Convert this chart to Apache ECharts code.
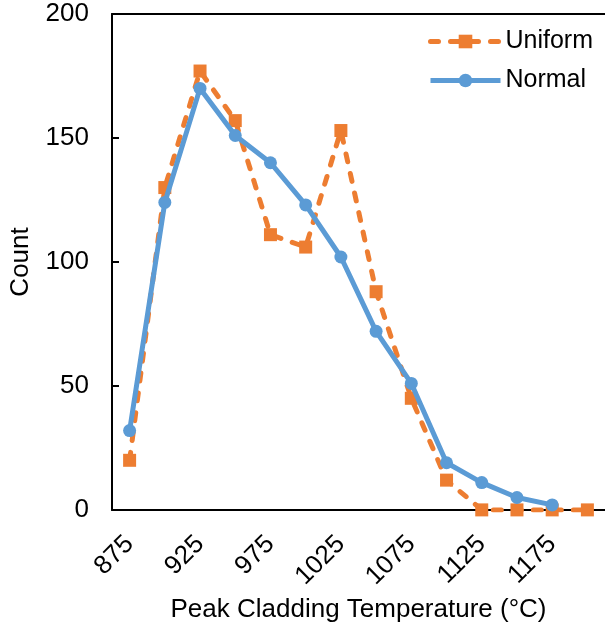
<!DOCTYPE html>
<html>
<head>
<meta charset="utf-8">
<script src="https://cdn.jsdelivr.net/npm/echarts@6/dist/echarts.min.js"></script>
<style>
    html, body { margin: 0; padding: 0; background: #fff; }
    #chart { width: 605px; height: 628px; }
</style>
</head>
<body>
<div id="chart"></div>
<script>
    // peak cladding temperature bins (°C)
    var temperatures = ['875', '900', '925', '950', '975', '1000', '1025', '1050', '1075', '1100', '1125', '1150', '1175', '1200'];
    var uniformCounts = [20, 130, 177, 157, 111, 106, 153, 88, 45, 12, 0, 0, 0, 0];
    var normalCounts = [32, 124, 170, 151, 140, 123, 102, 72, 51, 19, 11, 5, 2, '-'];
    var countTicks = { min: 0, max: 200, interval: 50 };

    var font = 'Liberation Sans';
    var chart = echarts.init(document.getElementById('chart'));

    chart.setOption({
        animation: false,
        grid: {
            left: 110,
            right: -4,
            top: 14,
            bottom: 118
        },
        legend: {
            orient: 'vertical',
            left: 423,
            top: 24,
            itemWidth: 70,
            itemHeight: 17,
            itemGap: 14,
            lineStyle: {
                width: 5
            },
            textStyle: {
                fontFamily: font,
                fontSize: 25,
                color: '#000'
            },
            data: ['Uniform', 'Normal']
        },
        xAxis: [{
            type: 'category',
            data: temperatures,
            boundaryGap: true,
            name: 'Peak Cladding Temperature (°C)',
            nameLocation: 'middle',
            nameGap: 84,
            nameTextStyle: {
                fontFamily: font,
                fontSize: 26,
                color: '#000'
            },
            axisLine: {
                lineStyle: {
                    color: '#000',
                    width: 2
                }
            },
            axisTick: {
                inside: true,
                length: 6,
                interval: 0,
                lineStyle: {
                    color: '#000',
                    width: 2
                }
            },
            axisLabel: {
                interval: 1,
                rotate: 45,
                margin: 30,
                fontFamily: font,
                fontSize: 26,
                color: '#000'
            },
            splitLine: { show: false }
        }, {
            type: 'category',
            data: temperatures,
            position: 'top',
            axisLine: {
                lineStyle: {
                    color: '#000',
                    width: 2
                }
            },
            axisTick: { show: false },
            axisLabel: { show: false },
            splitLine: { show: false }
        }],
        yAxis: {
            type: 'value',
            min: countTicks.min,
            max: countTicks.max,
            interval: countTicks.interval,
            name: 'Count',
            nameLocation: 'middle',
            nameGap: 78,
            nameTextStyle: {
                fontFamily: font,
                fontSize: 26,
                color: '#000'
            },
            axisLine: {
                show: true,
                lineStyle: {
                    color: '#000',
                    width: 2
                }
            },
            axisTick: {
                show: true,
                inside: true,
                length: 7,
                lineStyle: {
                    color: '#000',
                    width: 2
                }
            },
            axisLabel: {
                margin: 23,
                fontFamily: font,
                fontSize: 26,
                color: '#000'
            },
            splitLine: { show: false }
        },
        series: [{
            name: 'Uniform',
            type: 'line',
            data: uniformCounts,
            symbol: 'rect',
            symbolSize: 13,
            color: '#ED7D31',
            lineStyle: {
                width: 5,
                type: [8, 12],
                cap: 'round'
            },
            itemStyle: {
                color: '#ED7D31'
            },
            z: 2
        }, {
            name: 'Normal',
            type: 'line',
            data: normalCounts,
            symbol: 'circle',
            symbolSize: 13,
            color: '#5B9BD5',
            lineStyle: {
                width: 5
            },
            itemStyle: {
                color: '#5B9BD5'
            },
            z: 3
        }]
    });
</script>
</body>
</html>
